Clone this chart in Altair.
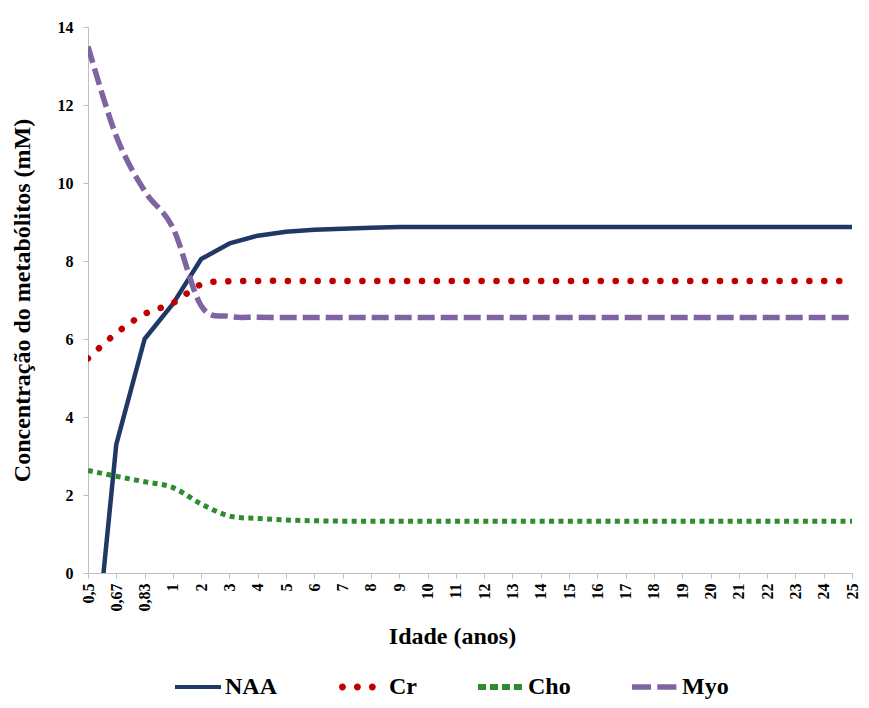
import altair as alt
import pandas as pd

ages = ["0,5", "0,67", "0,83", "1", "2", "3", "4", "5", "6", "7", "8", "9", "10", "11",
        "12", "13", "14", "15", "16", "17", "18", "19", "20", "21", "22", "23", "24", "25"]

naa = [-4.0, 3.3, 6.0, 6.9, 8.05, 8.45, 8.65, 8.75, 8.8, 8.83, 8.85, 8.87, 8.87, 8.87,
       8.87, 8.87, 8.87, 8.87, 8.87, 8.87, 8.87, 8.87, 8.87, 8.87, 8.87, 8.87, 8.87, 8.87]
cr = [5.5, 6.15, 6.64, 6.92, 7.4, 7.48, 7.49, 7.49, 7.49, 7.49, 7.49, 7.49, 7.49, 7.49,
      7.49, 7.49, 7.49, 7.49, 7.49, 7.49, 7.49, 7.49, 7.49, 7.49, 7.49, 7.49, 7.49, 7.49]
cho = [2.63, 2.48, 2.34, 2.19, 1.77, 1.46, 1.4, 1.36, 1.34, 1.33, 1.33, 1.33, 1.33, 1.33,
       1.33, 1.33, 1.33, 1.33, 1.33, 1.33, 1.33, 1.33, 1.33, 1.33, 1.33, 1.33, 1.33, 1.33]
myo = [13.5, 11.2, 9.8, 8.85, 6.85, 6.58, 6.56, 6.55, 6.55, 6.55, 6.55, 6.55, 6.55, 6.55,
       6.55, 6.55, 6.55, 6.55, 6.55, 6.55, 6.55, 6.55, 6.55, 6.55, 6.55, 6.55, 6.55, 6.55]

series = ["NAA", "Cr", "Cho", "Myo"]
colors = ["#1F3864", "#C00000", "#2E8B2E", "#8064A2"]
y_ticks = [0, 2, 4, 6, 8, 10, 12, 14]

rows = []
for name, vals in zip(series, [naa, cr, cho, myo]):
    for a, v in zip(ages, vals):
        rows.append({"idade": a, "valor": v, "serie": name})
df = pd.DataFrame(rows)


def circle(c, r):
    return f"M{c - r} 0A{r} {r} 0 1 0 {c + r} 0A{r} {r} 0 1 0 {c - r} 0Z"


def rect(x0, x1, h):
    return f"M{x0} {-h}L{x1} {-h}L{x1} {h}L{x0} {h}Z"


legend_shapes = [
    rect(-1, 1, 0.09),
    circle(-0.85, 0.15) + circle(-0.2, 0.15) + circle(0.45, 0.15),
    rect(-1, -0.65, 0.13) + rect(-0.48, -0.13, 0.13) + rect(0.04, 0.39, 0.13) + rect(0.56, 0.91, 0.13),
    rect(-1, -0.17, 0.12) + rect(0.1, 0.93, 0.12),
]

FONT = "Liberation Serif"

x_enc = alt.X(
    "idade:O",
    sort=ages,
    scale=alt.Scale(type="point", padding=0),
    axis=alt.Axis(
        title="Idade (anos)",
        labelAngle=270,
        labelFontSize=16,
        labelPadding=5,
        tickSize=5,
        titlePadding=13,
        titleX=364,
        titleAnchor="start",
        titleAlign="center",
    ),
)
y_enc = alt.Y(
    "valor:Q",
    scale=alt.Scale(domain=[0, 14], nice=False),
    axis=alt.Axis(
        title="Concentração do metabólitos (mM)",
        values=y_ticks,
        labelFontSize=16,
        labelPadding=10,
        tickSize=5,
        titlePadding=23,
    ),
)
cscale = alt.Scale(domain=series, range=colors)

leg = alt.Legend(
    title=None,
    orient="none",
    legendX=87,
    legendY=637,
    direction="horizontal",
    symbolSize=2116,
    symbolStrokeWidth=0,
    labelFont=FONT,
    labelFontWeight="bold",
    labelFontSize=24,
    labelColor="black",
    labelOffset=4,
    columnPadding=61,
    padding=0,
    labelLimit=300,
)


def line_layer(name, interp, **mk):
    return (
        alt.Chart(df)
        .transform_filter(alt.datum.serie == name)
        .mark_line(clip=True, interpolate=interp, **mk)
        .encode(x=x_enc, y=y_enc, color=alt.Color("serie:N", scale=cscale, legend=None))
    )


naa_l = line_layer("NAA", "linear", strokeWidth=4.5, strokeJoin="round")
cr_l = line_layer("Cr", "cardinal", strokeWidth=6.5, strokeDash=[0.1, 14.8], strokeCap="round")
cho_l = line_layer("Cho", "cardinal", strokeWidth=5, strokeDash=[5, 4.4])
myo_l = line_layer("Myo", "cardinal", strokeWidth=5.5, strokeDash=[17, 6])

# legend-only layer (first, so its legend wins the merge): points pushed outside the y domain and clipped
legend_layer = (
    alt.Chart(df)
    .transform_calculate(valor="-50")
    .mark_point(filled=True, opacity=1, size=2116, strokeWidth=0, clip=True)
    .encode(
        x=x_enc,
        y=y_enc,
        color=alt.Color("serie:N", scale=cscale, legend=leg),
        shape=alt.Shape("serie:N", scale=alt.Scale(domain=series, range=legend_shapes), legend=leg),
    )
)

chart = (
    alt.layer(legend_layer, naa_l, cr_l, cho_l, myo_l)
    .properties(
        width=764,
        height=546,
        autosize=alt.AutoSizeParams(type="none"),
        padding={"left": 80, "top": 19, "right": 9, "bottom": 127},
        background="white",
    )
    .configure_view(stroke=None)
    .configure_axis(
        labelFont=FONT,
        titleFont=FONT,
        labelFontWeight="bold",
        titleFontWeight="bold",
        titleFontSize=24,
        labelColor="black",
        titleColor="black",
        domainColor="#BFBFBF",
        tickColor="#BFBFBF",
        grid=False,
    )
)

chart.save("out.html", embed_options={"renderer": "svg", "actions": False})
